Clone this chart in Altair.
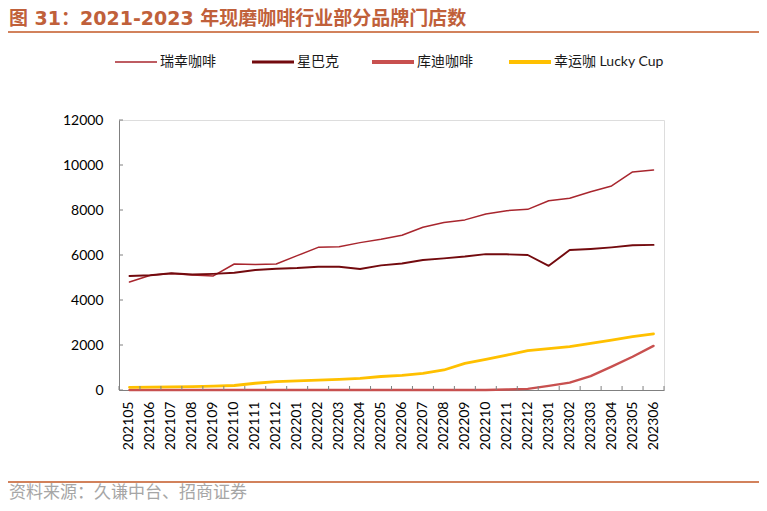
import altair as alt
import pandas as pd

MONTHS = ["202105", "202106", "202107", "202108", "202109", "202110", "202111", "202112",
          "202201", "202202", "202203", "202204", "202205", "202206", "202207", "202208",
          "202209", "202210", "202211", "202212", "202301", "202302", "202303", "202304",
          "202305", "202306"]
SERIES = ["瑞幸咖啡", "星巴克", "库迪咖啡", "幸运咖 Lucky Cup"]
LUCKIN = [4800, 5100, 5180, 5110, 5070, 5600, 5580, 5600, 5970, 6340, 6370, 6550, 6700,
          6880, 7230, 7440, 7560, 7820, 7970, 8030, 8410, 8520, 8810, 9070, 9690, 9780]
STARBUCKS = [5070, 5100, 5190, 5130, 5160, 5210, 5330, 5390, 5420, 5480, 5480, 5380, 5540,
             5620, 5780, 5850, 5930, 6040, 6030, 6000, 5520, 6220, 6270, 6340, 6430, 6450]
COTTI = [0, 0, 0, 0, 0, 0, 0, 0, 0, 0, 0, 0, 0,
         0, 0, 0, 0, 0, 20, 50, 180, 330, 620, 1040, 1480, 1960]
LUCKYCUP = [120, 130, 140, 150, 170, 200, 300, 370, 410, 440, 470, 520, 600,
            650, 740, 890, 1180, 1360, 1550, 1750, 1840, 1930, 2070, 2220, 2370, 2490]
Y_TICKS = [0, 2000, 4000, 6000, 8000, 10000, 12000]

TITLE = "图 31：2021-2023 年现磨咖啡行业部分品牌门店数"
SOURCE = "资料来源：久谦中台、招商证券"

COLORS = ["#A8262E", "#730A0E", "#C8504F", "#FFC000"]
WIDTHS = [1.5, 2.8, 4.2, 4.2]
ACCENT = "#D2825C"
AXIS_GRAY = "#808080"

W, H = 545, 270

rows = []
for name, vals in zip(SERIES, [LUCKIN, STARBUCKS, COTTI, LUCKYCUP]):
    for m, v in zip(MONTHS, vals):
        rows.append({"month": m, "series": name, "value": v})
df = pd.DataFrame(rows)

x_scale = alt.Scale(type="band", domain=MONTHS, paddingInner=0, paddingOuter=0)
x_axis = alt.Axis(title=None, labelAngle=-90, labelPadding=11, ticks=False, tickSize=0,
                  labelFont="Lato", labelFontSize=14, labelColor="#000000",
                  domainColor=AXIS_GRAY, domainWidth=1, grid=False)
y_scale = alt.Scale(domain=[0, 12000], nice=False)
y_axis = alt.Axis(title=None, values=Y_TICKS, format="d", ticks=False, tickSize=0,
                  labelPadding=16, labelFont="Lato", labelFontSize=14, labelColor="#000000",
                  domainColor=AXIS_GRAY, domainWidth=1, grid=False)
color_scale = alt.Scale(domain=SERIES, range=COLORS)
width_scale = alt.Scale(domain=SERIES, range=WIDTHS)

base = alt.Chart(df)
line_layers = []
for s in SERIES:
    line_layers.append(
        base.transform_filter(alt.datum.series == s)
        .mark_line(strokeJoin="round", strokeCap="round")
        .encode(
            x=alt.X("month:O", scale=x_scale, axis=x_axis, bandPosition=0.5),
            y=alt.Y("value:Q", scale=y_scale, axis=y_axis),
            color=alt.Color("series:N", scale=color_scale, legend=None),
            strokeWidth=alt.StrokeWidth("series:N", scale=width_scale, legend=None),
        )
    )

# inward tick marks
ytick_df = pd.DataFrame({"value": Y_TICKS})
yticks = alt.Chart(ytick_df).mark_rule(color=AXIS_GRAY, strokeWidth=1).encode(
    y=alt.Y("value:Q", scale=y_scale, axis=y_axis),
    x=alt.value(0), x2=alt.value(4),
)
xtick_df = pd.DataFrame({"month": MONTHS})
xticks = alt.Chart(xtick_df).mark_rule(color=AXIS_GRAY, strokeWidth=1).encode(
    x=alt.X("month:O", scale=x_scale, axis=x_axis, bandPosition=0),
    y=alt.value(H), y2=alt.value(H - 4),
)
one = pd.DataFrame({"k": [0]})
xtick_end = alt.Chart(one).mark_rule(color=AXIS_GRAY, strokeWidth=1).encode(
    x=alt.value(W), y=alt.value(H), y2=alt.value(H - 4)
)

# title, rules, source
title = alt.Chart(pd.DataFrame({"t": [TITLE]})).mark_text(
    align="left", baseline="middle", font="DejaVu Sans, Noto Sans CJK SC",
    fontSize=19, fontWeight="bold", color="#C0603A"
).encode(text="t:N", x=alt.value(-110), y=alt.value(-101))
top_rule = alt.Chart(one).mark_rule(color=ACCENT, strokeWidth=2).encode(
    x=alt.value(-111), x2=alt.value(641), y=alt.value(-88)
)
bottom_rule = alt.Chart(one).mark_rule(color=ACCENT, strokeWidth=2).encode(
    x=alt.value(-111), x2=alt.value(641), y=alt.value(362)
)
source = alt.Chart(pd.DataFrame({"t": [SOURCE]})).mark_text(
    align="left", baseline="middle", font="Noto Sans CJK SC",
    fontSize=17, color="#A6A6A6"
).encode(text="t:N", x=alt.value(-110), y=alt.value(373))

# manual legend
LEG_X0 = [-4, 133, 253, 390]
LEG_LEN = 42
LEG_Y = -58
legend_layers = []
for s, c, w, x0 in zip(SERIES, COLORS, WIDTHS, LEG_X0):
    legend_layers.append(
        alt.Chart(one).mark_rule(color=c, strokeWidth=w).encode(
            x=alt.value(x0), x2=alt.value(x0 + LEG_LEN), y=alt.value(LEG_Y)
        )
    )
    legend_layers.append(
        alt.Chart(pd.DataFrame({"t": [s]})).mark_text(
            align="left", baseline="middle", font="Lato, Noto Sans CJK SC",
            fontSize=14, color="#1A1A1A"
        ).encode(text="t:N", x=alt.value(x0 + LEG_LEN + 3), y=alt.value(LEG_Y))
    )

chart = alt.layer(
    *line_layers, yticks, xticks, xtick_end, title, top_rule, bottom_rule, source,
    *legend_layers
).properties(
    width=W, height=H,
    padding={"left": 111, "top": 112, "right": 95, "bottom": 113},
    autosize=alt.AutoSizeParams(type="none"),
).configure_view(stroke=None).configure(background="#FFFFFF")

chart.save("out.html", embed_options={"renderer": "svg", "actions": False})
